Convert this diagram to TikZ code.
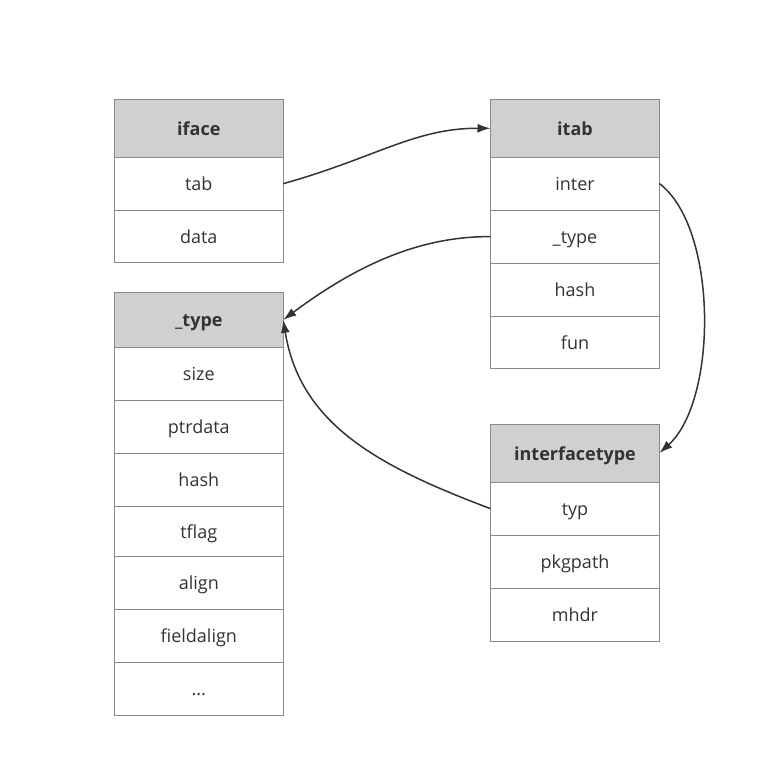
\documentclass[tikz,border=0pt]{standalone}
\usepackage{fontspec}
\setmainfont{Open Sans}
\usetikzlibrary{arrows.meta}
\definecolor{hdrfill}{HTML}{D0D0D0}
\definecolor{boxline}{HTML}{8A8A8A}
\definecolor{txt}{HTML}{333333}
\tikzset{
  cell/.style={draw=boxline, line width=0.9pt, fill=white, minimum width=169pt, text=txt,
    inner sep=0pt, outer sep=0pt, text height=14pt, text depth=0pt,
    font=\fontsize{18}{20}\selectfont},
  hdr/.style={cell, fill=hdrfill, font=\fontsize{18}{20}\selectfont\bfseries},
  link/.style={draw=txt, line width=1.5pt, -{Latex[length=13pt,width=9pt]}}
}
\begin{document}
\begin{tikzpicture}[x=1pt,y=-1pt]
\useasboundingbox (0,0) rectangle (782,777);
% iface
\node[hdr, minimum height=58pt] (iface) at (198.8,128.3) {iface};
\node[cell, minimum height=52.7pt] (tab) at (198.8,183.65) {tab};
\node[cell, minimum height=52.7pt] (data) at (198.8,236.35) {data};
% itab
\node[hdr, minimum height=58pt] (itab) at (575,128.3) {itab};
\node[cell, minimum height=52.7pt] (inter) at (575,183.65) {inter};
\node[cell, minimum height=53.3pt] (itype) at (575,236.65) {\_type};
\node[cell, minimum height=52.7pt] (ihash) at (575,289.65) {hash};
\node[cell, minimum height=52.7pt] (fun) at (575,342.35) {fun};
% _type
\node[hdr, minimum height=55pt] (type) at (198.8,319.8) {\_type};
\node[cell, minimum height=52.7pt] (size) at (198.8,373.65) {size};
\node[cell, minimum height=53.3pt] (ptrdata) at (198.8,426.65) {ptrdata};
\node[cell, minimum height=52.7pt] (thash) at (198.8,479.65) {hash};
\node[cell, minimum height=50pt] (tflag) at (198.8,531) {tflag};
\node[cell, minimum height=53.3pt] (align) at (198.8,582.65) {align};
\node[cell, minimum height=53pt] (fieldalign) at (198.8,635.8) {fieldalign};
\node[cell, minimum height=52.7pt] (dots) at (198.8,688.65) {...};
% interfacetype
\node[hdr, minimum height=58pt] (ifty) at (575,453) {interfacetype};
\node[cell, minimum height=53.3pt] (typ) at (575,508.65) {typ};
\node[cell, minimum height=53pt] (pkgpath) at (575,561.8) {pkgpath};
\node[cell, minimum height=52.7pt] (mhdr) at (575,614.65) {mhdr};
% links
\draw[link] (tab.east) .. controls (375,158) and (415,128) .. (itab.west);
\draw[link] (itype.west) .. controls (415,236) and (350,270) .. (type.east);
\draw[link] (inter.east) .. controls (718,228) and (718,400) .. (ifty.east);
\draw[link] (typ.west) .. controls (380,467) and (300,425) .. (type.east);
\end{tikzpicture}
\end{document}
